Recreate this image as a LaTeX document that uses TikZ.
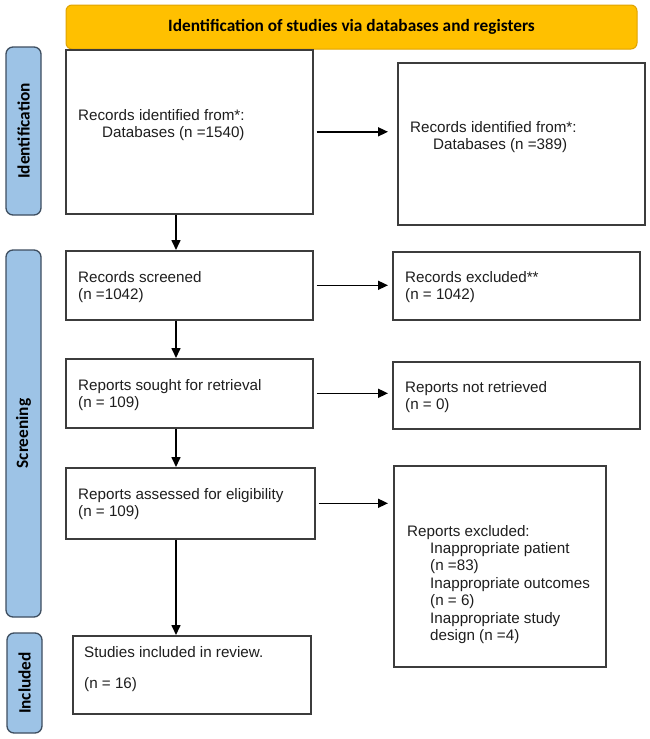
\documentclass[tikz,border=0pt]{standalone}
\usepackage{fontspec}
\setmainfont{Liberation Sans}
\newfontfamily\calfont{Carlito}
\usetikzlibrary{arrows.meta}
\definecolor{gold}{HTML}{FFC000}
\definecolor{goldline}{HTML}{E0A300}
\definecolor{tabblue}{HTML}{9DC3E6}
\definecolor{tabline}{HTML}{3E4E60}
\definecolor{boxline}{HTML}{3C3C3C}
\definecolor{txt}{HTML}{1E1E1E}
\begin{document}
\begin{tikzpicture}[x=1pt,y=-1pt,
  box/.style={draw=boxline,line width=1.6pt,fill=white,anchor=north west,inner sep=0pt},
  tab/.style={draw=tabline,line width=1.3pt,fill=tabblue,rounded corners=7pt,rotate=90,inner sep=0pt,
    font=\calfont\bfseries\fontsize{17.3}{20}\selectfont,text=black},
  btext/.style={anchor=base west,inner sep=0pt,align=left,font=\fontsize{15.2}{17.6}\selectfont,text=txt},
  arr/.style={draw=black,line width=1.6pt,-{Triangle[length=10pt,width=9pt]}}]
\useasboundingbox (0,0) rectangle (649,739);
\fill[white] (0,0) rectangle (649,739);

% banner
\node[fill=gold,draw=goldline,line width=1pt,rounded corners=6pt,minimum width=571pt,minimum height=44pt,
  inner sep=0pt,font=\calfont\bfseries\fontsize{17.3}{20}\selectfont,text=black] (banner) at (351.5,27)
  {Identification of studies via databases and registers};

% phase tabs
\node[tab,minimum width=168pt,minimum height=35pt] (T1) at (23.5,131) {Identification};
\node[tab,minimum width=367pt,minimum height=35pt] (T2) at (23.5,433.5) {Screening};
\node[tab,minimum width=100pt,minimum height=35pt] (T3) at (24.5,683) {Included};

% boxes
\node[box,minimum width=247pt,minimum height=164pt] (B1) at (65,49) {};
\node[box,minimum width=247pt,minimum height=162pt] (R1) at (397,62) {};
\node[box,minimum width=247pt,minimum height=69pt] (B2) at (65,250) {};
\node[box,minimum width=247pt,minimum height=68pt] (R2) at (392,251) {};
\node[box,minimum width=247pt,minimum height=69pt] (B3) at (65,358) {};
\node[box,minimum width=247pt,minimum height=67pt] (R3) at (392,361) {};
\node[box,minimum width=249pt,minimum height=71pt] (B4) at (65,467) {};
\node[box,minimum width=212pt,minimum height=201pt] (R4) at (393,465) {};
\node[box,minimum width=238pt,minimum height=78pt] (B5) at (72,635) {};

% texts (anchor = baseline of the last line)
\node[btext] (tB1) at (78,137.6) {Records identified from*:\\\hspace*{24pt}Databases (n =1540)};
\node[btext] (tR1) at (410,149.6) {Records identified from*:\\\hspace*{23pt}Databases (n =389)};
\node[btext] (tB2) at (78,299.6) {Records screened\\(n =1042)};
\node[btext] (tR2) at (405,299.6) {Records excluded**\\(n = 1042)};
\node[btext] (tB3) at (78,407.6) {Reports sought for retrieval\\(n = 109)};
\node[btext] (tR3) at (405,409.6) {Reports not retrieved\\(n = 0)};
\node[btext] (tB4) at (78,516.6) {Reports assessed for eligibility\\(n = 109)};
\node[btext,font=\fontsize{15.2}{17.4}\selectfont] (tR4) at (407,640.4) {Reports excluded:\\
  \hspace*{23pt}Inappropriate patient\\
  \hspace*{23pt}(n =83)\\
  \hspace*{23pt}Inappropriate outcomes\\
  \hspace*{23pt}(n = 6)\\
  \hspace*{23pt}Inappropriate study\\
  \hspace*{23pt}design (n =4)};
\node[btext] (tB5) at (84,688) {Studies included in review.\\[13.4pt](n = 16)};

% connectors
\coordinate (vx) at (176,0);
\draw[arr] (B1.south -| vx) -- (B2.north -| vx);
\draw[arr] (B2.south -| vx) -- (B3.north -| vx);
\draw[arr] (B3.south -| vx) -- (B4.north -| vx);
\draw[arr] (B4.south -| vx) -- (B5.north -| vx);
\draw[arr,shorten <=3pt,shorten >=9pt] (B1.east) -- (B1.east -| R1.west);
\draw[arr,shorten <=3pt,shorten >=4pt] (B2.east) -- (B2.east -| R2.west);
\draw[arr,shorten <=3pt,shorten >=4pt] (B3.east) -- (B3.east -| R3.west);
\draw[arr,shorten <=3pt,shorten >=5pt] (B4.east) -- (B4.east -| R4.west);
\end{tikzpicture}
\end{document}
